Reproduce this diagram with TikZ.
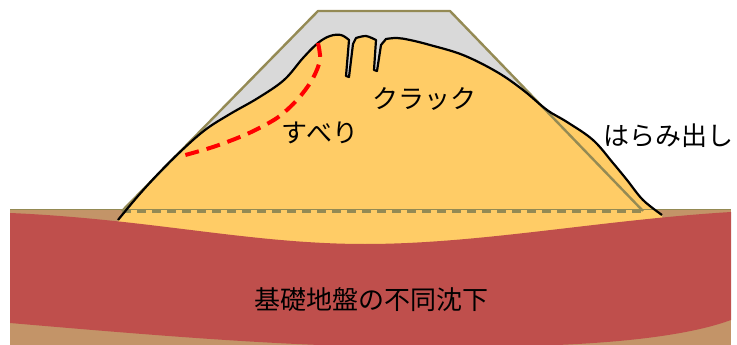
\documentclass[tikz,border=0pt]{standalone}
\usepackage{fontspec}
\newfontfamily\jpfont{Noto Sans CJK JP}
\definecolor{dike}{HTML}{FFCC66}
\definecolor{design}{HTML}{D9D9D9}
\definecolor{olive}{HTML}{948A54}
\definecolor{subsoil}{HTML}{BF4F4C}
\definecolor{sand}{HTML}{C39468}

% crest and slopes of the deformed embankment, cracks included
\newcommand{\dikeline}{plot[smooth, tension=0.6] coordinates {(118,220) (138,196) (158,174) (180,152) (205,130) (230,114) (258,98) (284,80) (303,58) (318,43) (330,36) (341,35) (349,40)}
  -- (346,76) -- (349,77) -- (353,44)
  -- plot[smooth] coordinates {(356,38) (366,36) (376,40)}
  -- (374,70) -- (377,71) -- (381,45)
  -- plot[smooth, tension=0.6] coordinates {(386,39) (397,38) (410,40) (430,45) (463,55) (497,72) (523,90) (547,110) (567,122) (593,140) (613,163) (627,180) (643,200) (662,215)}}

\begin{document}
\begin{tikzpicture}[x=1pt,y=-1pt,
    jtext/.style={font=\jpfont\fontsize{26}{26}\selectfont, inner sep=0pt}]
  \useasboundingbox (0,0) rectangle (737,345);
  % ground
  \fill[sand] (10,209) rectangle (731,345);
  % design cross section
  \fill[design] (122,211) -- (318,11) -- (450,11) -- (643,211) -- cycle;
  % embankment body
  \fill[dike] \dikeline -- (662,262) -- (118,262) -- cycle;
  % settled foundation layer
  \fill[subsoil] (10,213) .. controls (150,219) and (250,244) .. (365,244)
    .. controls (480,244) and (600,220) .. (731,212) -- (731,320)
    .. controls (660,346) and (520,348) .. (400,347)
    .. controls (280,346) and (150,335) .. (10,323) -- cycle;
  \draw[olive, line width=1.5] (10,209.5) -- (731,209.5);
  \draw[olive, line width=3, dash pattern=on 9pt off 6pt] (122,211) -- (643,211);
  \draw[olive, line width=2.4, line join=round] (122,211) -- (318,11) -- (450,11) -- (643,211);
  \draw[line width=2.2, line join=round] \dikeline;
  % slip line
  \draw[red, line width=4, dash pattern=on 14pt off 8pt]
    plot[smooth] coordinates {(318,43) (320,60) (312,80) (297,100) (277,118) (247,134) (213,147) (178,157)};
  \node[jtext] (slide) at (320,133) {すべり};
  \node[jtext] (crack) at (424,99) {クラック};
  \node[jtext] (bulge) at (668,136) {はらみ出し};
  \node[jtext] (settle) at (371,300) {基礎地盤の不同沈下};
\end{tikzpicture}
\end{document}
